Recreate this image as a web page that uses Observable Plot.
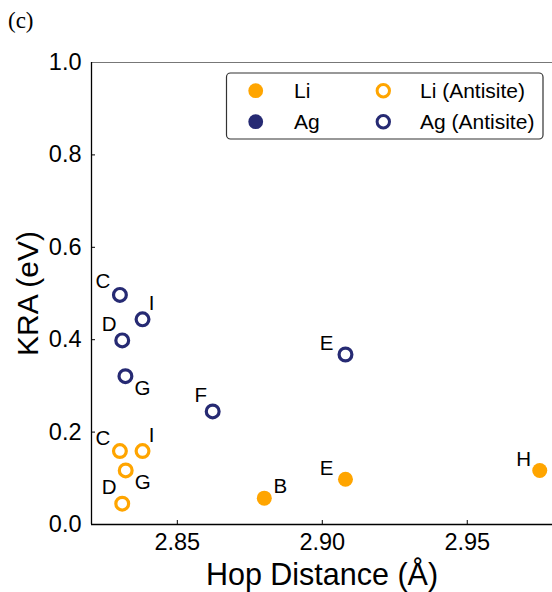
<!DOCTYPE html>
<html><head><meta charset="utf-8">
<script src="https://cdn.jsdelivr.net/npm/d3@7"></script>
<script src="https://cdn.jsdelivr.net/npm/@observablehq/plot@0.6"></script>
<style>
body{margin:0;background:#fff;}
#wrap{position:relative;width:552px;height:592px;font-family:"Liberation Sans",Arial,sans-serif;}
#panel{position:absolute;left:8px;top:9px;line-height:1;font-family:"Liberation Serif","Times New Roman",serif;font-size:23px;}
#wrap svg{position:absolute;left:0;top:0;}
</style></head><body><div id="wrap"></div>
<script>
// ---- data ----
const liLabels = ["B", "E", "H"];
const liHop = [2.880, 2.908, 2.975];
const liKRA = [0.057, 0.098, 0.117];

const liAntiLabels = ["C", "I", "G", "D"];
const liAntiHop = [2.8302, 2.838, 2.8322, 2.831];
const liAntiKRA = [0.159, 0.159, 0.117, 0.045];

const agAntiLabels = ["C", "I", "D", "G", "F", "E"];
const agAntiHop = [2.8302, 2.838, 2.831, 2.8321, 2.8622, 2.908];
const agAntiKRA = [0.497, 0.444, 0.3985, 0.321, 0.2447, 0.368];

const legendNames = ["Li", "Ag", "Li (Antisite)", "Ag (Antisite)"];
const xTicks = [2.85, 2.90, 2.95];
const yTicks = [0, 0.2, 0.4, 0.6, 0.8, 1.0];
const xDomain = [2.8204, 2.9794];
const yDomain = [0, 1];

// ---- styles ----
const ORANGE = "#ffa500";
const NAVY = "#262a73";
const FONT = "'Liberation Sans', Arial, sans-serif";

const mk = (labels, hop, kra) => labels.map((l, i) => ({label: l, x: hop[i], y: kra[i]}));
const li = mk(liLabels, liHop, liKRA);
const liAnti = mk(liAntiLabels, liAntiHop, liAntiKRA);
const agAnti = mk(agAntiLabels, agAntiHop, agAntiKRA);
const allPts = [...li, ...liAnti, ...agAnti];

const labelOffsets = {
  C: [-17, -13], D: [-13, -16], E: [-19, -11], F: [-12, -16],
  H: [-16, -11], I: [9, -15.5], G: [17, 12], B: [16, -12]
};
const labelMarks = Object.entries(labelOffsets).map(([k, [dx, dy]]) =>
  Plot.text(allPts.filter(d => d.label === k), {
    x: "x", y: "y", text: "label", dx, dy, fontSize: 20.5, fill: "#000",
    textAnchor: "middle", lineAnchor: "middle"
  })
);

const chart = Plot.plot({
  width: 552, height: 592,
  marginLeft: 91, marginRight: 0, marginTop: 62, marginBottom: 68,
  x: {domain: xDomain},
  y: {domain: yDomain},
  style: {fontFamily: FONT, background: "white", color: "#000", overflow: "visible"},
  marks: [
    Plot.axisX({ticks: xTicks, tickFormat: d3.format(".2f"), tickSize: -4, tickPadding: 13, fontSize: 23.5, label: null}),
    Plot.axisY({ticks: yTicks, tickFormat: d3.format(".1f"), tickSize: -4, tickPadding: 14, fontSize: 23.5, label: null}),
    Plot.ruleY([yDomain[1]], {stroke: "#777", strokeWidth: 1}),
    Plot.ruleX([xDomain[0]], {stroke: "#000", strokeWidth: 1.3}),
    Plot.ruleY([yDomain[0]], {stroke: "#000", strokeWidth: 1.3}),
    Plot.dot(li, {x: "x", y: "y", r: 7.5, fill: ORANGE, stroke: null}),
    Plot.dot(liAnti, {x: "x", y: "y", r: 6.4, fill: "none", stroke: ORANGE, strokeWidth: 3.2}),
    Plot.dot(agAnti, {x: "x", y: "y", r: 6.4, fill: "none", stroke: NAVY, strokeWidth: 3.2}),
    ...labelMarks,
    Plot.text(["Hop Distance (Å)"], {text: d => d, frameAnchor: "bottom", dy: 51, fontSize: 30.5, textAnchor: "middle", lineAnchor: "middle"}),
    Plot.text(["KRA (eV)"], {text: d => d, frameAnchor: "left", rotate: -90, dx: -63, fontSize: 30, textAnchor: "middle", lineAnchor: "middle"})
  ]
});

const wrap = document.getElementById("wrap");
wrap.appendChild(chart);
const panel = document.createElement("div");
panel.id = "panel";
panel.textContent = "(c)";
wrap.appendChild(panel);

// ---- legend (inside plot area) ----
const leg = d3.select(wrap).append("svg")
  .attr("width", 552).attr("height", 592)
  .style("pointer-events", "none");
leg.append("rect")
  .attr("x", 226.5).attr("y", 73).attr("width", 316.5).attr("height", 66)
  .attr("rx", 4).attr("fill", "white").attr("stroke", "#333").attr("stroke-width", 1.2);
const legendItems = [
  {name: legendNames[0], col: 0, row: 0, color: ORANGE, filled: true},
  {name: legendNames[1], col: 0, row: 1, color: NAVY, filled: true},
  {name: legendNames[2], col: 1, row: 0, color: ORANGE, filled: false},
  {name: legendNames[3], col: 1, row: 1, color: NAVY, filled: false}
];
const colMarker = [255.7, 383.3], colText = [294, 420], rowY = [90.7, 121.7];
legendItems.forEach(it => {
  const cx = colMarker[it.col], cy = rowY[it.row];
  if (it.filled) {
    leg.append("circle").attr("cx", cx).attr("cy", cy).attr("r", 7.4).attr("fill", it.color);
  } else {
    leg.append("circle").attr("cx", cx).attr("cy", cy).attr("r", 6.2)
      .attr("fill", "none").attr("stroke", it.color).attr("stroke-width", 3);
  }
  leg.append("text").attr("x", colText[it.col]).attr("y", cy + 7.3)
    .attr("font-family", FONT).attr("font-size", 21).attr("fill", "#000")
    .text(it.name);
});
</script>
</body></html>
